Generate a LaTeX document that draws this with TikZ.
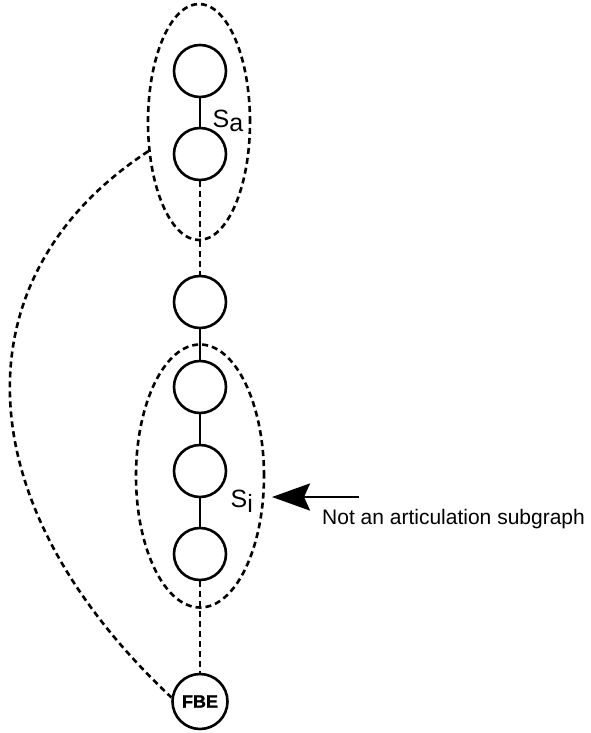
\documentclass[tikz,border=0pt]{standalone}
\usepackage{fontspec}
\setmainfont{Liberation Sans}
\newfontfamily\heavyfont{Liberation Sans}[BoldFeatures={FakeBold=1.5}]
\usetikzlibrary{shapes.geometric,arrows.meta}

\begin{document}
\begin{tikzpicture}[line join=round, x=1pt, y=-1pt, >={Stealth[length=38pt,width=27pt,inset=6pt]}]
	\tikzset{vertex/.style={draw, circle, line width=2.6pt, minimum size=52pt, inner sep=0pt},
		group/.style={draw, ellipse, line width=2.6pt, dash pattern=on 6pt off 4pt, inner sep=0pt},
		link/.style={line width=2.6pt},
		dlink/.style={line width=2.6pt, dash pattern=on 6pt off 4pt},
		sub/.style={font=\fontsize{25}{25}\selectfont, inner sep=0pt, anchor=base west}}
	\useasboundingbox (0,0) rectangle (590,733);
	% the two subgraphs
	\node[group, minimum width=102pt, minimum height=236pt] (sa) at (199,122) {};
	\node[group, minimum width=128pt, minimum height=263pt] (si) at (200,476) {};
	% chain of vertices
	\node[vertex] (v1) at (200,71) {};
	\node[vertex] (v2) at (200,154) {};
	\node[vertex] (v3) at (200,302) {};
	\node[vertex] (v4) at (200,387) {};
	\node[vertex] (v5) at (200,471) {};
	\node[vertex] (v6) at (200,554) {};
	\node[vertex, minimum size=55pt, font=\heavyfont\bfseries\fontsize{18}{18}\selectfont] (fbe) at (200,701.5) {FBE};
	\draw[link] (v1) -- (v2);
	\draw[dlink] (v2) -- (v3);
	\draw[link] (v3) -- (v4) (v4) -- (v5) (v5) -- (v6);
	\draw[dlink] (v6) -- (fbe);
	\draw[dlink] (sa.210) .. controls (-40,274) and (-40,499) .. (fbe.172);
	% labels
	\node[sub] (la) at (212.5,128) {S\raisebox{-4pt}{a}};
	\node[sub] (li) at (230.5,507) {S\raisebox{-5pt}{i}};
	\node[anchor=base west, inner sep=0pt, font=\fontsize{21}{21}\selectfont] (note) at (322,524) {Not an articulation subgraph};
	\coordinate (tail) at (359,497);
	\coordinate (tip) at (272,497);
	\draw[->, line width=2.8pt] (tail) -- (tip);
\end{tikzpicture}
\end{document}
